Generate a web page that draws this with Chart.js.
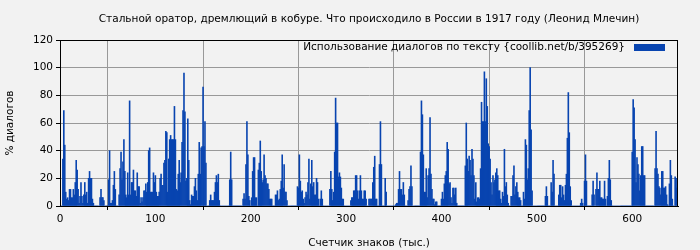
<!DOCTYPE html>
<html>
<head>
<meta charset="utf-8">
<script src="https://cdn.jsdelivr.net/npm/chart.js@4.4.1/dist/chart.umd.min.js"></script>
<style>
  html, body { margin: 0; padding: 0; background: #f2f2f2; }
  #wrap { width: 700px; height: 250px; }
</style>
</head>
<body>
<div id="wrap"><canvas id="dialog-chart" width="700" height="250"></canvas></div>
<script>
var chartTitle = 'Стальной оратор, дремлющий в кобуре. Что происходило в России в 1917 году (Леонид Млечин)';
var seriesLabel = 'Использование диалогов по тексту {coollib.net/b/395269}';
var xTitle = 'Счетчик знаков (тыс.)';
var yTitle = '% диалогов';
var xTicks = [0, 100, 200, 300, 400, 500, 600];
var yTicks = [0, 20, 40, 60, 80, 100, 120];

// доля диалогов по каждой тысяче знаков, начиная с 1
var dialogShare = [
    0,0,34,69,44,10,5,6,4,12,12, 6,6,12,8,17,33,26,12,2,7, 17,7,2,8,17,8,10,2,20,25,
    20,20,5,2,0,0,0,0,0,0,6, 12,6,6,4,0,0,0,0,19,40, 2,2,4,15,25,12,0,0,0,8,27,
    39,19,32,48,25,8,6,24,8,76, 8,17,17,26,11,11,7,24,14,14,2, 6,3,6,11,11,16,10,17,40,42,
    10,10,10,24,17,22,10,7,7,10,20, 23,15,15,31,33,54,53,10,34,48, 51,48,48,48,72,48,12,11,23,33,17,
    24,46,69,96,68,18,20,63,33,4, 1,8,7,7,14,20,11,4,23,46,23, 42,43,86,43,61,31,0,0,0,4,
    8,4,4,4,10,17,22,17,23,4,0, 0,0,0,0,0,0,0,0,0,19, 39,19,0,0,0,0,0,0,0,0,0,
    0,0,5,9,5,30,61,37,7,4, 0,6,25,35,35,6,6,0,26,31,47, 25,17,19,37,22,20,16,16,12,5,
    5,5,0,0,0,8,8,11,4,5,12, 18,37,13,30,10,10,4,0,0,0, 0,0,0,0,0,0,0,14,13,37,18,
    10,11,5,2,6,10,8,17,34,5, 16,33,14,17,8,8,20,17,5,0,5, 11,5,0,0,0,0,0,0,0,12,
    25,12,4,10,39,78,60,60,21,24,21, 13,5,5,0,0,0,0,0,0,0, 4,6,6,11,11,22,22,11,5,11,22,
    11,5,5,11,11,5,0,0,5,5, 5,5,17,28,36,5,5,0,0,30,61, 30,0,0,0,20,10,0,0,0,0,
    0,0,0,0,0,1,2,2,12,25,12, 12,8,17,8,0,0,0,4,12,14, 29,14,0,0,0,0,0,0,0,0,39,
    76,66,37,10,10,27,6,22,27,64, 23,12,5,5,1,3,3,0,0,0,0, 5,10,5,16,22,25,46,41,16,17,
    6,2,13,13,8,13,2,0,0,0,0, 0,0,0,0,29,60,34,25,36,33, 22,41,34,22,5,17,3,6,6,5,27,
    75,61,61,97,61,92,72,45,43,34, 17,8,22,17,19,24,27,22,11,11,5, 2,10,7,41,14,17,8,2,0,0,
    7,7,22,29,8,14,17,10,6,6,4, 0,0,10,5,48,44,19,27,69,100, 55,11,0,0,0,0,0,0,0,0,0,
    0,0,0,0,7,14,7,0,0,0, 17,10,33,23,0,0,0,0,8,15,15, 6,14,8,4,15,23,49,82,53,14,
    4,0,0,0,0,0,0,0,0,0,2, 5,2,0,18,37,18,0,0,0,0, 0,8,18,8,0,12,24,12,12,18,
    6,6,5,5,18,5,0,7,20,33,19, 4,0,0,0,0,0,0,0,0,0, 0,0,0,0,0,0,0,0,0,0,0,
    0,39,77,71,48,17,35,30,23,11, 22,43,43,22,22,0,0,0,0,0,0, 0,0,0,0,27,54,27,23,14,13,
    8,25,25,13,13,14,8,1,0,16,33, 22,5,0,0,21,20,13
];

var barColor = 'rgb(8, 68, 176)';
var fontFamily = "'DejaVu Sans', sans-serif";
var fontSize = 10.5;

var titlePlugin = {
    id: 'topTitle',
    beforeDraw: function (chart) {
        var c = chart.ctx;
        c.save();
        c.fillStyle = '#f2f2f2';
        c.fillRect(0, 0, chart.width, chart.height);
        c.restore();
    },
    afterDraw: function (chart) {
        var c = chart.ctx;
        var area = chart.chartArea;
        c.save();
        c.font = fontSize + 'px ' + fontFamily;
        c.fillStyle = '#000';
        c.textAlign = 'center';
        c.textBaseline = 'middle';
        c.fillText(chartTitle, (area.left + area.right) / 2, 19);

        // легенда: текст, затем цветной прямоугольник
        c.textAlign = 'right';
        c.fillText(seriesLabel, area.right - 53, 47);
        c.fillStyle = barColor;
        c.fillRect(area.right - 44, 44, 31, 7);
        c.restore();
    }
};

var config = {
    type: 'bar',
    data: {
        datasets: [{
            label: seriesLabel,
            data: dialogShare.map(function (v, i) { return {x: i + 1, y: v}; }),
            backgroundColor: barColor,
            borderWidth: 0,
            barPercentage: 1,
            categoryPercentage: 1,
        }]
    },
    options: {
        responsive: false,
        animation: false,
        layout: {padding: {top: 40, right: 22, left: 0, bottom: 0}},
        plugins: {
            legend: {display: false},
            tooltip: {enabled: false},
        },
        scales: {
            x: {
                type: 'linear',
                offset: false,
                min: 0,
                max: 648,
                afterFit: function (s) { s.height = 44; },
                afterBuildTicks: function (s) { s.ticks = xTicks.map(function (v) { return {value: v}; }); },
                ticks: {color: '#000', font: {family: fontFamily, size: fontSize}, padding: 3, maxRotation: 0},
                grid: {
                    color: '#999',
                    borderDash: [3, 3],
                    lineWidth: 1,
                    tickLength: 4,
                    tickColor: '#000',
                },
                border: {display: true, color: '#000', width: 1},
                title: {display: true, text: xTitle, color: '#000', font: {family: fontFamily, size: fontSize}, padding: {top: 4, bottom: 0}},
            },
            y: {
                min: 0,
                max: 120,
                afterFit: function (s) { s.width = 60; },
                afterBuildTicks: function (s) { s.ticks = yTicks.map(function (v) { return {value: v}; }); },
                ticks: {color: '#000', font: {family: fontFamily, size: fontSize}, padding: 3},
                grid: {
                    color: '#999',
                    borderDash: [3, 3],
                    lineWidth: 1,
                    tickLength: 4,
                    tickColor: '#000',
                },
                border: {display: true, color: '#000', width: 1},
                title: {display: true, text: yTitle, color: '#000', font: {family: fontFamily, size: fontSize}, padding: {top: 4, bottom: 0}},
            }
        }
    },
    plugins: [titlePlugin, {
        id: 'frame',
        afterDatasetsDraw: function (chart) {
            var c = chart.ctx, a = chart.chartArea;
            c.save();
            c.strokeStyle = '#000';
            c.lineWidth = 1;
            c.strokeRect(a.left + 0.5, a.top + 0.5, a.right - a.left - 1, a.bottom - a.top);
            c.restore();
        }
    }]
};

var ctx = document.getElementById('dialog-chart').getContext('2d');
window.dialogChart = new Chart(ctx, config);
</script>
</body>
</html>
